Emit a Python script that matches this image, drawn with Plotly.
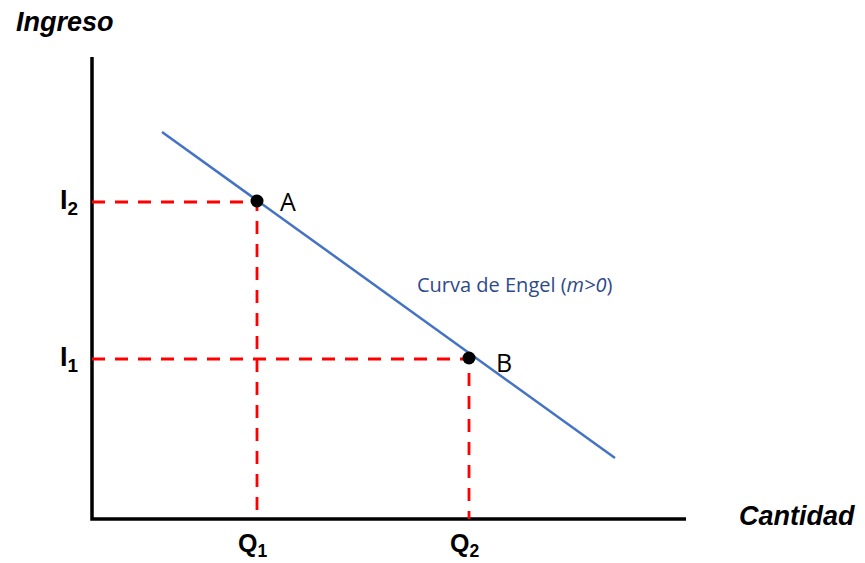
import plotly.graph_objects as go

# Conceptual Engel-curve diagram (arbitrary units)
q_labels = ["Q<sub>1</sub>", "Q<sub>2</sub>"]
i_labels = ["I<sub>1</sub>", "I<sub>2</sub>"]
q_values = [16.5, 37.7]      # Q1, Q2
i_values = [16.0, 31.7]      # I1, I2
point_names = ["A", "B"]
point_q = [16.5, 37.7]
point_i = [31.8, 16.1]
engel_q = [7.0, 52.3]
engel_i = [38.7, 6.1]
x_axis_max = 59.4
y_axis_max = 46.2

fig = go.Figure()

# axes
fig.add_trace(go.Scatter(x=[0, 0, x_axis_max], y=[y_axis_max, 0, 0], mode="lines",
                         line=dict(color="black", width=3.5), hoverinfo="skip"))

# dashed guides (I2 -> A, I1 -> B)
for q, i in [(point_q[0], i_values[1]), (point_q[1], i_values[0])]:
    fig.add_trace(go.Scatter(x=[0, q, q], y=[i, i, 0], mode="lines",
                             line=dict(color="#FF0000", width=2.8, dash="13px,10px"),
                             hoverinfo="skip"))

# Engel curve
fig.add_trace(go.Scatter(x=engel_q, y=engel_i, mode="lines",
                         line=dict(color="#4472C4", width=2.5), hoverinfo="skip"))

# points
fig.add_trace(go.Scatter(x=point_q, y=point_i, mode="markers",
                         marker=dict(color="black", size=13), hoverinfo="skip"))

ann = []
for name, q, i, dx, dy in zip(point_names, point_q, point_i, [31, 35], [0, -4]):
    ann.append(dict(x=q, y=i, text=name, showarrow=False, xshift=dx, yshift=dy,
                    font=dict(family="Open Sans", size=25, color="black")))
for lab, q in zip(q_labels, q_values):
    ann.append(dict(x=q, y=-2.6, text=f"<b>{lab}</b>", showarrow=False, xshift=-5,
                    font=dict(family="Liberation Sans", size=25, color="black")))
for lab, i in zip(i_labels, i_values):
    ann.append(dict(x=-1.2, y=i, text=f"<b>{lab}</b>", showarrow=False, xanchor="right",
                    font=dict(family="Liberation Sans", size=27, color="black")))
ann.append(dict(x=-7.8, y=49.7, text="<b><i>Ingreso</i></b>", showarrow=False, xanchor="left",
                font=dict(family="Liberation Sans", size=27, color="black")))
ann.append(dict(x=64.5, y=0.3, text="<b><i>Cantidad</i></b>", showarrow=False, xanchor="left",
                font=dict(family="Liberation Sans", size=27, color="black")))
ann.append(dict(x=42.3, y=23.5, text="Curva de Engel (<i>m>0</i>)", showarrow=False,
                font=dict(family="Open Sans", size=20, color="#2F4A8A")))

# page body has an 8px margin, so the figure is a little smaller than the window
fig.update_layout(
    width=857, height=555, autosize=False,
    margin=dict(l=0, r=0, t=0, b=0),
    paper_bgcolor="white", plot_bgcolor="white",
    showlegend=False,
    xaxis=dict(range=[-8.4, 77.3], visible=False, fixedrange=True),
    yaxis=dict(range=[-4.4, 51.1], visible=False, fixedrange=True),
    annotations=ann,
)

fig.write_html("out.html")
